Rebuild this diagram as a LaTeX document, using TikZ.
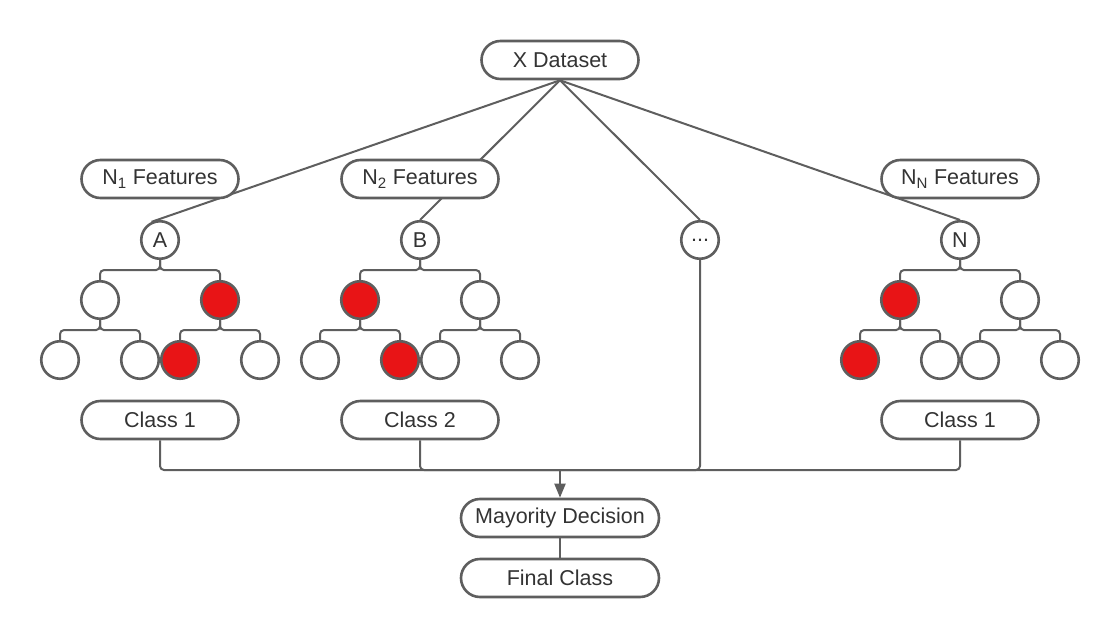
\documentclass[tikz,border=0pt]{standalone}
\usepackage{fontspec}
\setmainfont{Liberation Sans}
\usetikzlibrary{arrows.meta,shapes.misc}
\definecolor{linegray}{HTML}{5E5E5E}
\definecolor{leafred}{HTML}{E81416}
\definecolor{textgray}{HTML}{333333}

\begin{document}
\begin{tikzpicture}[x=1pt, y=-1pt, every node/.style={font=\fontsize{21.5}{26}\selectfont, text=textgray},
	pill/.style={draw=linegray, line width=2.6pt, fill=white, rounded rectangle, minimum width=145pt, minimum height=38pt, inner ysep=0pt, inner xsep=-6pt},
	split/.style={draw=linegray, line width=2.6pt, fill=white, circle, minimum size=37.5pt, inner sep=0pt},
	hit/.style={split, fill=leafred},
	conn/.style={draw=linegray, line width=2pt, rounded corners=4pt},
	>={Triangle[length=14pt, width=11pt]}]
	\useasboundingbox (0,0) rectangle (1120,640);
	\node[pill] (X) at (560,60) {X Dataset};
	\node[split] (A) at (160,240) {A};
	\node[split] (B) at (420,240) {B};
	\node[split] (dots) at (700,240) {...};
	\node[split] (N) at (960,240) {N};
	\draw[conn] (X.south) -- (A.115);
	\draw[conn] (X.south) -- (B.north);
	\draw[conn] (X.south) -- (dots.north);
	\draw[conn] (X.south) -- (N.north);
	\node[pill] (f1) at (160,179) {N\textsubscript{1} Features};
	\node[pill] (f2) at (420,179) {N\textsubscript{2} Features};
	\node[pill] (fN) at (960,179) {N\textsubscript{N} Features};
	% tree A
	\node[split] (a1) at (100,300) {};
	\node[hit] (a2) at (220,300) {};
	\node[split] (a11) at (60,360) {};
	\node[split] (a12) at (140,360) {};
	\node[hit] (a21) at (180,360) {};
	\node[split] (a22) at (260,360) {};
	\draw[conn] (A.south) -- ++(0,10) -| (a1.north);
	\draw[conn] (A.south) -- ++(0,10) -| (a2.north);
	\draw[conn] (a1.south) -- ++(0,10) -| (a11.north);
	\draw[conn] (a1.south) -- ++(0,10) -| (a12.north);
	\draw[conn] (a2.south) -- ++(0,10) -| (a21.north);
	\draw[conn] (a2.south) -- ++(0,10) -| (a22.north);
	% tree B
	\node[hit] (b1) at (360,300) {};
	\node[split] (b2) at (480,300) {};
	\node[split] (b11) at (320,360) {};
	\node[hit] (b12) at (400,360) {};
	\node[split] (b21) at (440,360) {};
	\node[split] (b22) at (520,360) {};
	\draw[conn] (B.south) -- ++(0,10) -| (b1.north);
	\draw[conn] (B.south) -- ++(0,10) -| (b2.north);
	\draw[conn] (b1.south) -- ++(0,10) -| (b11.north);
	\draw[conn] (b1.south) -- ++(0,10) -| (b12.north);
	\draw[conn] (b2.south) -- ++(0,10) -| (b21.north);
	\draw[conn] (b2.south) -- ++(0,10) -| (b22.north);
	% tree N
	\node[hit] (n1) at (900,300) {};
	\node[split] (n2) at (1020,300) {};
	\node[hit] (n11) at (860,360) {};
	\node[split] (n12) at (940,360) {};
	\node[split] (n21) at (980,360) {};
	\node[split] (n22) at (1060,360) {};
	\draw[conn] (N.south) -- ++(0,10) -| (n1.north);
	\draw[conn] (N.south) -- ++(0,10) -| (n2.north);
	\draw[conn] (n1.south) -- ++(0,10) -| (n11.north);
	\draw[conn] (n1.south) -- ++(0,10) -| (n12.north);
	\draw[conn] (n2.south) -- ++(0,10) -| (n21.north);
	\draw[conn] (n2.south) -- ++(0,10) -| (n22.north);
	% votes
	\node[pill] (c1) at (160,420) {Class 1};
	\node[pill] (c2) at (420,420) {Class 2};
	\node[pill] (c3) at (960,420) {Class 1};
	\node[pill, minimum width=186pt] (md) at (560,518) {Mayority Decision};
	\node[pill, minimum width=186pt] (fc) at (560,578) {Final Class};
	\coordinate (join) at (560,470);
	\draw[conn] (c1.south) |- (join);
	\draw[conn] (c2.south) |- (join);
	\draw[conn] (dots.south) |- (join);
	\draw[conn] (c3.south) |- (join);
	\draw[conn, ->] (join) -- (md.north);
	\draw[conn] (md.south) -- (fc.north);
\end{tikzpicture}
\end{document}
